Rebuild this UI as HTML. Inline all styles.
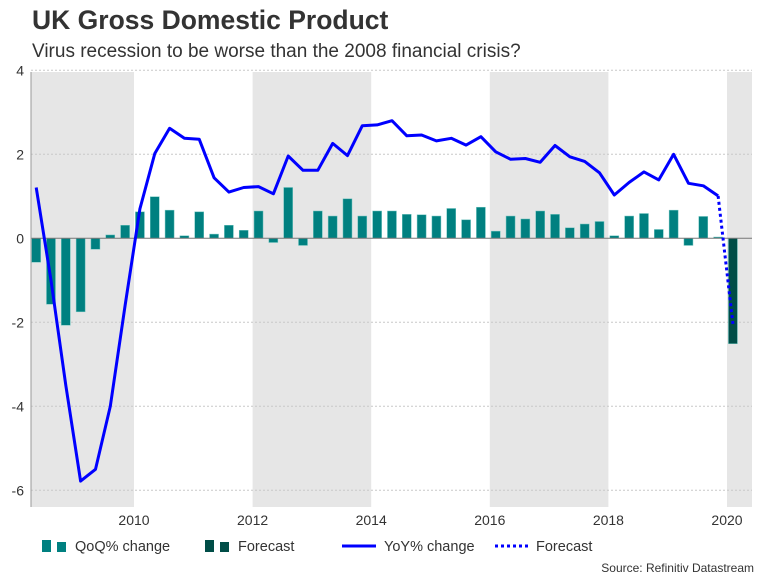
<!DOCTYPE html>
<html><head><meta charset="utf-8"><style>
body{margin:0;background:#fff;font-family:"Liberation Sans",sans-serif}
svg text{font-family:"Liberation Sans",sans-serif}
</style></head><body>
<svg id="chart" width="768" height="576" xmlns="http://www.w3.org/2000/svg">
<text x="32" y="29" font-size="26.5" font-weight="bold" fill="#333">UK Gross Domestic Product</text>
<text x="32" y="57" font-size="19" fill="#333">Virus recession to be worse than the 2008 financial crisis?</text>
<g id="bands"></g><g id="grid"></g><g id="bars"></g><g id="lines"></g><g id="axes"></g>
<g>
<rect x="42" y="540" width="9" height="12" fill="#008080"/><rect x="57" y="542" width="9" height="10" fill="#008080"/>
<text x="75" y="551" font-size="14.5" fill="#333">QoQ% change</text>
<rect x="205" y="540" width="9" height="12" fill="#004d47"/><rect x="220" y="542" width="9" height="10" fill="#004d47"/>
<text x="238" y="551" font-size="14.5" fill="#333">Forecast</text>
<line x1="342" y1="546" x2="376" y2="546" stroke="#0000ff" stroke-width="3"/>
<text x="384" y="551" font-size="14.5" fill="#333">YoY% change</text>
<line x1="495" y1="546" x2="529" y2="546" stroke="#0000ff" stroke-width="3" stroke-dasharray="3,3"/>
<text x="536" y="551" font-size="14.5" fill="#333">Forecast</text>
</g>
<text x="754" y="572" font-size="12" fill="#333" text-anchor="end">Source: Refinitiv Datastream</text>
</svg>
<script>
const qoq=[-0.57,-1.57,-2.07,-1.75,-0.26,0.08,0.31,0.63,0.99,0.67,0.06,0.63,0.1,0.31,0.19,0.65,-0.1,1.21,-0.17,0.65,0.53,0.94,0.53,0.65,0.65,0.57,0.56,0.53,0.71,0.44,0.74,0.17,0.53,0.46,0.65,0.57,0.25,0.34,0.40,0.06,0.53,0.59,0.21,0.67,-0.17,0.52,0.03];
const qoqForecast=[-2.51];
const yoy=[1.21,-1.0,-3.5,-5.78,-5.5,-4.0,-1.6,0.7,2.02,2.62,2.38,2.36,1.44,1.10,1.21,1.23,1.06,1.96,1.62,1.62,2.26,1.97,2.68,2.70,2.80,2.44,2.46,2.32,2.38,2.22,2.42,2.06,1.88,1.90,1.81,2.21,1.94,1.83,1.56,1.03,1.33,1.58,1.39,2.0,1.31,1.25,1.01];
const yoyForecast=[-2.04];
const startYear=2008, startQuarter=2;
const yTicks=[4,2,0,-2,-4,-6];
const xTicks=[2010,2012,2014,2016,2018,2020];
const bandYears=[[2008,2010],[2012,2014],[2016,2018],[2020,2021]];
const NS="http://www.w3.org/2000/svg";
const L=31,R=752,T=72,B=507;
const y=v=>238.3-v*42;
const x=t=>134+(t-2010)*59.3;
const qt=i=>startYear+(startQuarter-1)/4+i*0.25+0.1;
function mk(p,tag,a){const e=document.createElementNS(NS,tag);for(const k in a)e.setAttribute(k,a[k]);document.getElementById(p).appendChild(e);return e;}
bandYears.forEach(b=>{const x1=Math.max(L,x(b[0])),x2=Math.min(R,x(b[1]));
const e=mk('bands','rect',{x:x1,y:T,width:x2-x1,height:B-T,fill:'#e6e6e6'});

});
yTicks.forEach(v=>{if(v!==0){const g=mk('grid','line',{x1:L,x2:R,y1:y(v),y2:y(v),stroke:'#c8c8c8','stroke-dasharray':'2,2'});

}
const t=mk('axes','text',{x:24,y:y(v)+5,'font-size':14,fill:'#333','text-anchor':'end'});t.textContent=v;

});
xTicks.forEach(v=>{const t=mk('axes','text',{x:x(v),y:525,'font-size':14,fill:'#333','text-anchor':'middle'});t.textContent=v;

});
const ax=mk('axes','line',{x1:L,x2:L,y1:T,y2:B,stroke:'#999','stroke-width':1});


const bw=9;
function bar(i,v,fill){const y0=y(0),y1=y(v);const e=mk('bars','rect',{x:x(qt(i))-bw/2,y:Math.min(y0,y1),width:bw,height:Math.abs(y1-y0),fill:fill,stroke:'#6fc4bf','stroke-width':0.5});

}
qoq.forEach((v,i)=>bar(i,v,'#008080'));
qoqForecast.forEach((v,j)=>bar(qoq.length+j,v,'#004d47'));
const z=mk('bars','line',{x1:L,x2:R,y1:y(0),y2:y(0),stroke:'#777','stroke-width':1});


const pts=yoy.map((v,i)=>x(qt(i)).toFixed(1)+','+y(v).toFixed(1)).join(' ');
const pl=mk('lines','polyline',{points:pts,fill:'none',stroke:'#0000ff','stroke-width':3,'stroke-linejoin':'round'});


const n=yoy.length-1;
const fp=[x(qt(n))+','+y(yoy[n])].concat(yoyForecast.map((v,j)=>x(qt(n+1+j))+','+y(v))).join(' ');
const fl=mk('lines','polyline',{points:fp,fill:'none',stroke:'#0000ff','stroke-width':3,'stroke-dasharray':'3,3'});


</script>
</body></html>
